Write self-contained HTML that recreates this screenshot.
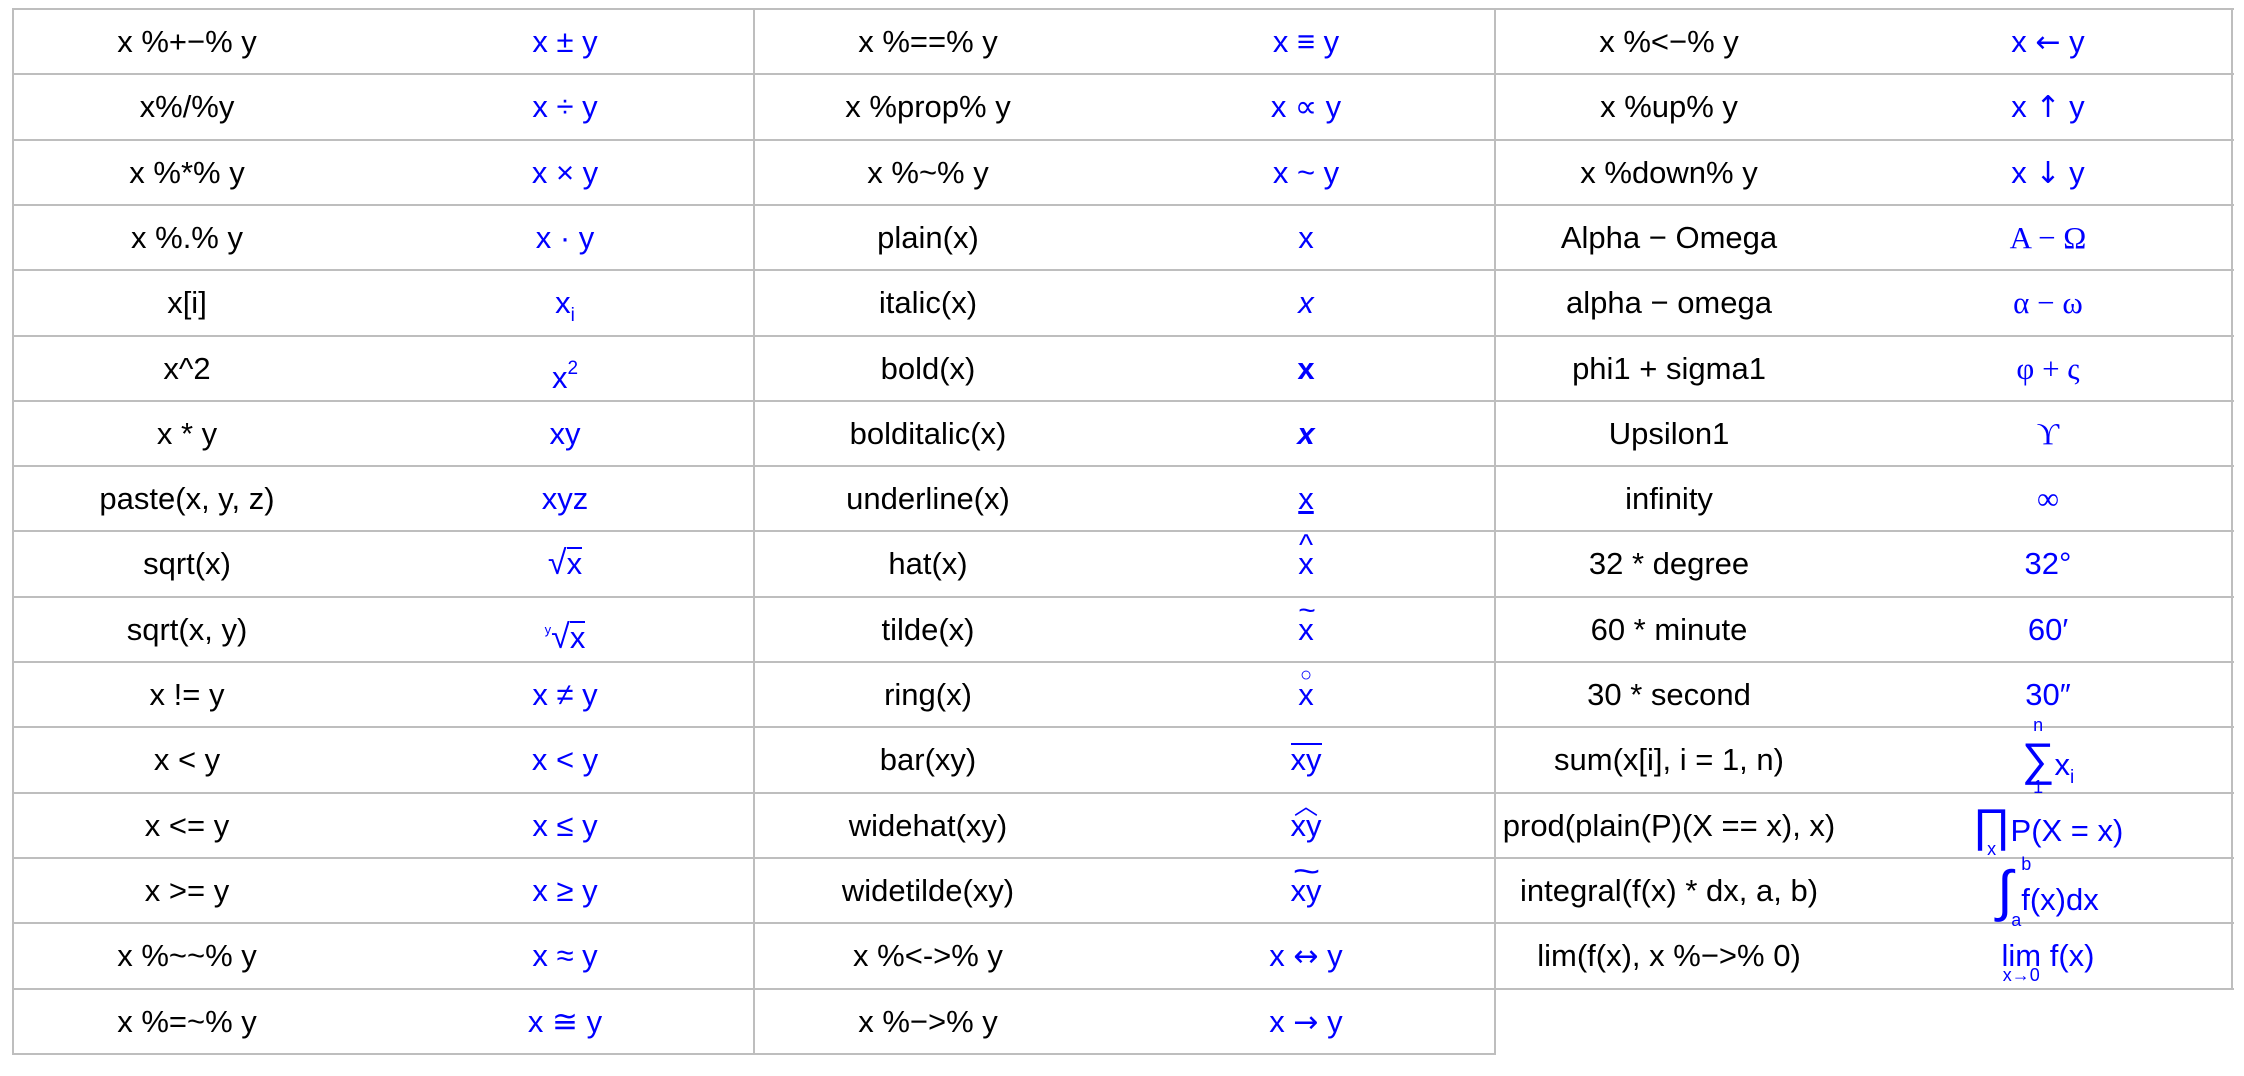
<!DOCTYPE html>
<html><head><meta charset="utf-8">
<style>
body{margin:0;width:2244px;height:1076px;background:#fff;position:relative;overflow:hidden;font-family:"Liberation Sans",sans-serif;}
.h{position:absolute;height:2px;background:#bebebe;}
.v{position:absolute;width:2px;background:#bebebe;}
.c{position:absolute;width:400px;height:65px;line-height:65px;text-align:center;font-size:31px;color:#000;white-space:nowrap;}
.b{color:#0000ff;}
.s{font-family:"Liberation Serif",serif;}
.ar{font-family:"DejaVu Sans",sans-serif;font-size:30px;}
.sub{font-size:19px;vertical-align:-8px;}
.sup{font-size:19px;vertical-align:14px;}
.rel{position:relative;display:inline-block;}
.acc{position:absolute;left:0;right:0;text-align:center;font-size:20px;line-height:20px;}
</style></head><body>
<div class="h" style="left:13px;top:8px;width:2221px"></div>
<div id="g"></div>
<div class="v" style="left:12px;top:8px;height:1047px"></div>
<div class="v" style="left:753px;top:8px;height:1047px"></div>
<div class="v" style="left:1494px;top:8px;height:1047px"></div>
<div class="v" style="left:2231px;top:8px;height:981px"></div>

<!-- Column 1 -->
<div class="c" style="left:-13px;top:9px">x %+−% y</div><div class="c b" style="left:365px;top:9px">x ± y</div>
<div class="c" style="left:-13px;top:74px">x%/%y</div><div class="c b" style="left:365px;top:74px">x ÷ y</div>
<div class="c" style="left:-13px;top:140px">x %*% y</div><div class="c b" style="left:365px;top:140px">x × y</div>
<div class="c" style="left:-13px;top:205px">x %.% y</div><div class="c b" style="left:365px;top:205px">x · y</div>
<div class="c" style="left:-13px;top:270px">x[i]</div><div class="c b" style="left:365px;top:270px">x<span class="sub">i</span></div>
<div class="c" style="left:-13px;top:336px">x^2</div><div class="c b" style="left:365px;top:336px">x<span class="sup">2</span></div>
<div class="c" style="left:-13px;top:401px">x * y</div><div class="c b" style="left:365px;top:401px">xy</div>
<div class="c" style="left:-13px;top:466px">paste(x, y, z)</div><div class="c b" style="left:365px;top:466px">xyz</div>
<div class="c" style="left:-13px;top:531px">sqrt(x)</div><div class="c b" style="left:365px;top:531px"><span style="font-size:34px">√</span><span style="border-top:2px solid #00f;line-height:30px;display:inline-block">x</span></div>
<div class="c" style="left:-13px;top:597px">sqrt(x, y)</div><div class="c b" style="left:365px;top:597px"><span class="sup" style="font-size:13px">y</span><span style="font-size:34px">√</span><span style="border-top:2px solid #00f;line-height:30px;display:inline-block">x</span></div>
<div class="c" style="left:-13px;top:662px">x != y</div><div class="c b" style="left:365px;top:662px">x ≠ y</div>
<div class="c" style="left:-13px;top:727px">x &lt; y</div><div class="c b" style="left:365px;top:727px">x &lt; y</div>
<div class="c" style="left:-13px;top:793px">x &lt;= y</div><div class="c b" style="left:365px;top:793px">x ≤ y</div>
<div class="c" style="left:-13px;top:858px">x &gt;= y</div><div class="c b" style="left:365px;top:858px">x ≥ y</div>
<div class="c" style="left:-13px;top:923px">x %~~% y</div><div class="c b" style="left:365px;top:923px">x ≈ y</div>
<div class="c" style="left:-13px;top:989px">x %=~% y</div><div class="c b" style="left:365px;top:989px">x ≅ y</div>

<!-- Column 2 -->
<div class="c" style="left:728px;top:9px">x %==% y</div><div class="c b" style="left:1106px;top:9px">x ≡ y</div>
<div class="c" style="left:728px;top:74px">x %prop% y</div><div class="c b" style="left:1106px;top:74px">x ∝ y</div>
<div class="c" style="left:728px;top:140px">x %~% y</div><div class="c b" style="left:1106px;top:140px">x ~ y</div>
<div class="c" style="left:728px;top:205px">plain(x)</div><div class="c b" style="left:1106px;top:205px">x</div>
<div class="c" style="left:728px;top:270px">italic(x)</div><div class="c b" style="left:1106px;top:270px"><i>x</i></div>
<div class="c" style="left:728px;top:336px">bold(x)</div><div class="c b" style="left:1106px;top:336px"><b>x</b></div>
<div class="c" style="left:728px;top:401px">bolditalic(x)</div><div class="c b" style="left:1106px;top:401px"><b><i>x</i></b></div>
<div class="c" style="left:728px;top:466px">underline(x)</div><div class="c b" style="left:1106px;top:466px"><span style="text-decoration:underline">x</span></div>
<div class="c" style="left:728px;top:531px">hat(x)</div><div class="c b" style="left:1106px;top:531px"><span class="rel">x<span class="acc" style="top:0px;font-size:30px;line-height:30px">^</span></span></div>
<div class="c" style="left:728px;top:597px">tilde(x)</div><div class="c b" style="left:1106px;top:597px"><span class="rel">x<span class="acc" style="top:4px;font-size:30px">~</span></span></div>
<div class="c" style="left:728px;top:662px">ring(x)</div><div class="c b" style="left:1106px;top:662px"><span class="rel">x<span class="acc" style="top:3px;font-size:20px">○</span></span></div>
<div class="c" style="left:728px;top:727px">bar(xy)</div><div class="c b" style="left:1106px;top:727px"><span style="border-top:2px solid #00f;line-height:30px;display:inline-block">xy</span></div>
<div class="c" style="left:728px;top:793px">widehat(xy)</div><div class="c b" style="left:1106px;top:793px"><span class="rel">xy<span class="acc" style="top:4px;font-size:24px">︿</span></span></div>
<div class="c" style="left:728px;top:858px">widetilde(xy)</div><div class="c b" style="left:1106px;top:858px"><span class="rel">xy<span class="acc" style="top:4px;font-size:34px;transform:scaleX(1.4)">~</span></span></div>
<div class="c" style="left:728px;top:923px">x %&lt;-&gt;% y</div><div class="c b" style="left:1106px;top:923px">x <span class="ar">↔</span> y</div>
<div class="c" style="left:728px;top:989px">x %−&gt;% y</div><div class="c b" style="left:1106px;top:989px">x <span class="ar">→</span> y</div>

<!-- Column 3 -->
<div class="c" style="left:1469px;top:9px">x %&lt;−% y</div><div class="c b" style="left:1848px;top:9px">x <span class="ar">←</span> y</div>
<div class="c" style="left:1469px;top:74px">x %up% y</div><div class="c b" style="left:1848px;top:74px">x <span class="ar">↑</span> y</div>
<div class="c" style="left:1469px;top:140px">x %down% y</div><div class="c b" style="left:1848px;top:140px">x <span class="ar">↓</span> y</div>
<div class="c" style="left:1469px;top:205px">Alpha − Omega</div><div class="c b s" style="left:1848px;top:205px">Α − Ω</div>
<div class="c" style="left:1469px;top:270px">alpha − omega</div><div class="c b s" style="left:1848px;top:270px">α − ω</div>
<div class="c" style="left:1469px;top:336px">phi1 + sigma1</div><div class="c b s" style="left:1848px;top:336px">φ + ς</div>
<div class="c" style="left:1469px;top:401px">Upsilon1</div><div class="c b s" style="left:1848px;top:401px">ϒ</div>
<div class="c" style="left:1469px;top:466px">infinity</div><div class="c b s" style="left:1848px;top:466px">∞</div>
<div class="c" style="left:1469px;top:531px">32 * degree</div><div class="c b" style="left:1848px;top:531px">32°</div>
<div class="c" style="left:1469px;top:597px">60 * minute</div><div class="c b" style="left:1848px;top:597px">60′</div>
<div class="c" style="left:1469px;top:662px">30 * second</div><div class="c b" style="left:1848px;top:662px">30″</div>
<div class="c" style="left:1469px;top:727px">sum(x[i], i = 1, n)</div>
<div class="c b" style="left:1848px;top:727px"><span class="rel" style="font-size:46px">∑<span class="acc" style="top:-12px;font-size:18px">n</span><span class="acc" style="top:50px;font-size:18px">1</span></span>x<span class="sub">i</span></div>
<div class="c" style="left:1469px;top:793px">prod(plain(P)(X == x), x)</div>
<div class="c b" style="left:1848px;top:793px"><span class="rel" style="font-size:46px">∏<span class="acc" style="top:46px;font-size:18px">x</span></span>P(X = x)</div>
<div class="c" style="left:1469px;top:858px">integral(f(x) * dx, a, b)</div>
<div class="c b" style="left:1848px;top:858px"><span class="rel" style="font-size:56px;font-weight:100">∫<span class="acc" style="top:-4px;left:24px;font-size:18px;text-align:left">b</span><span class="acc" style="top:52px;left:14px;font-size:18px;text-align:left">a</span></span> f(x)dx</div>
<div class="c" style="left:1469px;top:923px">lim(f(x), x %−&gt;% 0)</div>
<div class="c b" style="left:1848px;top:923px"><span class="rel">lim<span class="acc" style="top:42px;font-size:18px">x→0</span></span> f(x)</div>

<script>
var g=document.getElementById('g'),h='';
for(var i=1;i<=16;i++){var y=Math.round(8+65.3*i);
 var w=(i<=15)?2221:1483;
 h+='<div class="h" style="left:13px;top:'+y+'px;width:'+w+'px"></div>';}
g.innerHTML=h;
</script>
</body></html>
